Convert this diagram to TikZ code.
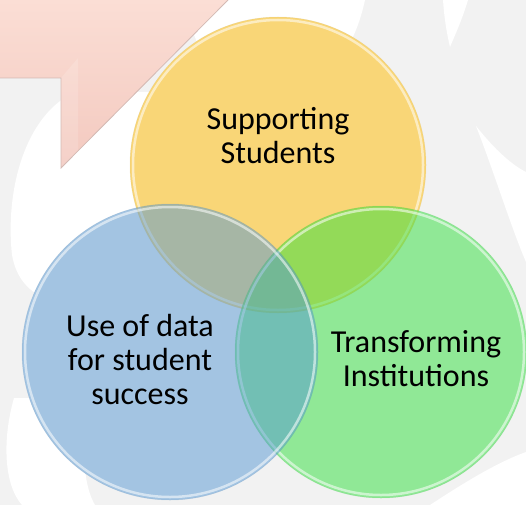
\documentclass[tikz,border=0pt]{standalone}
\usepackage{fontspec}
\setmainfont{Carlito}

\definecolor{bggray}{RGB}{242,242,242}
\definecolor{ringyellow}{RGB}{251,210,98}
\definecolor{ringgreen}{RGB}{47,223,59}
\definecolor{ringblue}{RGB}{85,151,211}
\definecolor{pinktop}{RGB}{251,222,213}
\definecolor{pinkbot}{RGB}{243,201,191}
\definecolor{pinkedge}{RGB}{212,186,180}

\tikzset{
  ring/.style={circle, inner sep=0pt, minimum size=#1},
  ringlabel/.style={align=center, text=black, inner sep=0pt,
    font=\fontsize{32pt}{34pt}\selectfont},
  rim/.style={draw=white, draw opacity=0.55, line width=2.5pt},
  swirl/.style={fill=white, draw=none},
}

\begin{document}
\begin{tikzpicture}[x=1pt,y=-1pt]
            % background
            \fill [bggray] (0,0) rectangle (526,505);
            \useasboundingbox (0,0) rectangle (526,505);
            \fill [swirl] (185,0) -- (365,0) .. controls (352,60) and (320,90) .. (270,95) .. controls (225,95) and (195,60) .. (185,0) -- cycle;
            \fill [swirl] (443,0) -- (468,0) .. controls (462,20) and (455,35) .. (450,47) .. controls (446,30) and (444,15) .. (443,0) -- cycle;
            \fill [swirl] (476,126) .. controls (495,150) and (512,165) .. (526,172) -- (526,262) .. controls (512,230) and (494,172) .. (476,126) -- cycle;
            \fill [swirl] (75,92) .. controls (25,115) and (5,190) .. (12,255) .. controls (20,300) and (60,315) .. (160,312) -- (160,92) -- cycle;
            \fill [swirl] (14,398) .. controls (2,440) and (4,485) .. (22,505) -- (95,505) .. controls (80,480) and (80,420) .. (100,398) -- cycle;
            \fill [swirl] (430,505) .. controls (465,482) and (498,462) .. (526,452) -- (526,505) -- cycle;
            % pink arrow
            \shade [top color=pinktop, bottom color=pinkbot] (0,0) -- (228,0) -- (61,168) -- (61,78) -- (0,78) -- cycle;
            \fill [white, opacity=0.15] (61,78) -- (78,58) -- (78,151) -- (61,168) -- cycle;
            \draw [pinkedge, line width=0.8] (228,0) -- (61,168) -- (61,78) -- (0,78);
            % plain backing under the circles
            \fill [bggray] (278,165) circle (148) (381,352) circle (146) (170,352) circle (148);
            % yellow circle
            \node [ring=296pt, fill=ringyellow, fill opacity=0.85, draw=ringyellow!80!black, draw opacity=0.2, line width=0.5pt] (supp) at (278,165) {};
            \draw [rim] (supp.center) circle (145);
            % green circle
            \node [ring=292pt, fill=ringgreen, fill opacity=0.5, draw=ringgreen!80!black, draw opacity=0.2, line width=0.5pt] (transf) at (381,352) {};
            \draw [rim] (transf.center) circle (143);
            % blue circle
            \node [ring=296pt, fill=ringblue, fill opacity=0.5, draw=ringblue!80!black, draw opacity=0.2, line width=0.5pt] (usedata) at (170,352) {};
            \draw [rim] (usedata.center) circle (145);
            % labels
            \node [ringlabel] (tsupp) at (278,136) {Supporting\\Students};
            \node [ringlabel] (tuse) at (140,360) {Use of data\\for student\\success};
            \node [ringlabel] (ttransf) at (416,359) {Transforming\\Institutions};
\end{tikzpicture}
\end{document}
